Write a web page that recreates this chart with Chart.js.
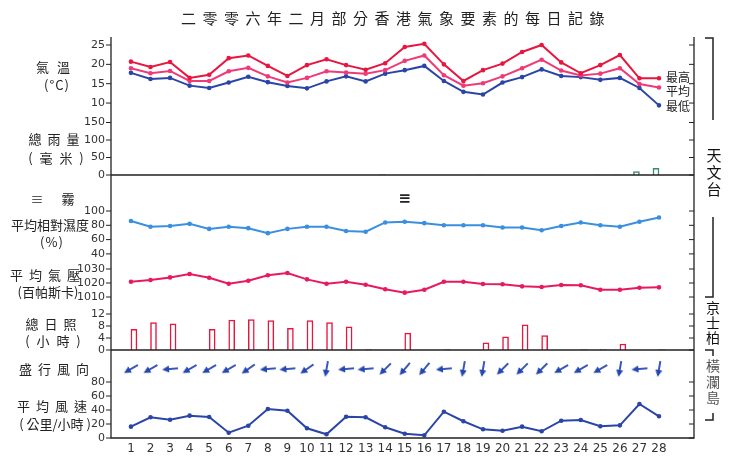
<!DOCTYPE html>
<html>
<head>
<meta charset="utf-8">
<script src="https://cdn.jsdelivr.net/npm/chart.js@4"></script>
<style>
  html, body { margin: 0; padding: 0; background: #fff; }
  #wrap { width: 733px; height: 468px; position: relative; }
</style>
</head>
<body>
<div id="wrap"><canvas id="c"></canvas></div>
<script>
// 二零零六年二月 每日記錄
const days = Array.from({ length: 28 }, (_, i) => i + 1);

const tempMax  = [20.7, 19.3, 20.6, 16.5, 17.3, 21.6, 22.3, 19.6, 17.0, 19.8, 21.3, 19.8, 18.6, 20.3, 24.5, 25.3, 20.0, 15.7, 18.5, 20.2, 23.2, 25.0, 20.5, 17.7, 19.8, 22.4, 16.4, 16.4];
const tempMean = [19.0, 17.7, 18.3, 15.7, 15.7, 18.2, 19.1, 16.9, 15.3, 16.5, 18.2, 17.9, 17.6, 18.5, 20.9, 22.3, 17.2, 14.5, 15.1, 16.9, 19.0, 21.2, 18.4, 17.1, 17.6, 19.0, 14.9, 14.0];
const tempMin  = [17.8, 16.2, 16.5, 14.5, 13.9, 15.3, 16.8, 15.4, 14.4, 13.8, 15.6, 16.9, 15.6, 17.6, 18.5, 19.6, 15.7, 12.9, 12.2, 15.3, 16.7, 18.7, 17.0, 16.7, 16.0, 16.5, 13.9, 9.4];
const rainfall = [0, 0, 0, 0, 0, 0, 0, 0, 0, 0, 0, 0, 0, 1.5, 0, 0, 0, 0, 0.5, 0, 0, 0, 0, 0, 0.5, 0.5, 10, 19];
const humidity = [86, 78, 79, 82, 75, 78, 76, 69, 75, 78, 78, 72, 71, 84, 85, 83, 80, 80, 80, 77, 77, 73, 79, 84, 80, 78, 85, 91];
const pressure = [1020.9, 1022.1, 1024.0, 1026.4, 1023.8, 1019.5, 1021.6, 1025.5, 1027.1, 1022.6, 1019.5, 1020.9, 1018.8, 1015.5, 1013.1, 1015.2, 1020.9, 1020.9, 1019.3, 1019.1, 1017.6, 1017.1, 1018.6, 1018.4, 1015.2, 1015.2, 1016.6, 1016.9];
const sunshine = [6.9, 9.1, 8.7, 0, 6.9, 10.0, 10.1, 9.8, 7.2, 9.8, 9.1, 7.7, 0.1, 0, 5.6, 0, 0.1, 0, 2.4, 4.4, 8.4, 4.8, 0, 0.1, 0.1, 2.0, 0, 0.1];
const windDir  = [60, 60, 85, 60, 60, 60, 55, 85, 85, 55, 10, 85, 85, 45, 40, 40, 85, 10, 10, 45, 45, 45, 60, 60, 60, 10, 85, 10];
const windSpd  = [16.2, 29.6, 26.1, 31.9, 30.0, 7.6, 17.6, 41.4, 39.0, 13.9, 5.3, 30.4, 29.6, 15.3, 6.1, 3.9, 37.6, 23.9, 12.4, 10.4, 16.2, 9.6, 24.7, 25.7, 16.7, 18.1, 48.6, 31.0];
const fogDays  = [15];

const tempTicks = [25, 20, 15, 10];
const rainTicks = [150, 100, 50, 0];
const humTicks  = [100, 80, 60, 40];
const presTicks = [1030, 1020, 1010];
const sunTicks  = [12, 8, 4, 0];
const spdTicks  = [80, 60, 40, 20, 0];

// chart area: 37..438 px; each hidden axis is sized so one panel lands where it should
const TOP = 37, BOT = 438;
const axis = (v, y, ppu) => ({
  display: false,
  min: v - (BOT - y) / ppu,
  max: v + (y - TOP) / ppu,
});

const pts = arr => arr.map((v, i) => ({ x: days[i], y: v }));

function arrowImage() {
  const c = document.createElement('canvas');
  c.width = 18; c.height = 18;
  const g = c.getContext('2d');
  g.strokeStyle = '#2446b0'; g.fillStyle = '#2446b0'; g.lineWidth = 1.8;
  g.beginPath(); g.moveTo(9, 1); g.lineTo(9, 12); g.stroke();
  g.beginPath(); g.moveTo(5.5, 10); g.lineTo(12.5, 10); g.lineTo(9, 17); g.closePath(); g.fill();
  return c;
}
const arrow = arrowImage();

const line = (label, data, color, yAxisID) => ({
  type: 'line', label, data: pts(data), yAxisID,
  borderColor: color, backgroundColor: color, borderWidth: 2,
  pointRadius: 1.3, pointHoverRadius: 2, tension: 0,
});

const decor = {
  id: 'decor',
  afterDraw(chart) {
    const ctx = chart.ctx, a = chart.chartArea, s = chart.scales;
    const L = a.left, R = a.right;
    ctx.save();
    ctx.strokeStyle = '#222'; ctx.lineWidth = 1.3;
    ctx.beginPath();
    ctx.moveTo(L, TOP); ctx.lineTo(L, BOT); ctx.lineTo(R, BOT); ctx.lineTo(R, TOP);
    for (const y of [175, 350]) { ctx.moveTo(L, y); ctx.lineTo(R, y); }
    ctx.stroke();

    // ticks + labels
    ctx.font = '11px "DejaVu Sans"'; ctx.fillStyle = '#333';
    ctx.textAlign = 'right'; ctx.textBaseline = 'middle';
    const tick = (scale, vals) => vals.forEach(v => {
      const y = scale.getPixelForValue(v);
      ctx.beginPath();
      ctx.moveTo(L - 5, y); ctx.lineTo(L, y);
      ctx.moveTo(R - 5, y); ctx.lineTo(R, y);
      ctx.stroke();
      ctx.fillText(String(v), L - 6, y);
    });
    ctx.lineWidth = 1;
    tick(s.yT, tempTicks); tick(s.yR, rainTicks); tick(s.yH, humTicks);
    tick(s.yP, presTicks); tick(s.yS, sunTicks); tick(s.yW, spdTicks);

    ctx.textAlign = 'center'; ctx.textBaseline = 'top'; ctx.font = '12px "DejaVu Sans"';
    days.forEach(d => {
      const x = s.x.getPixelForValue(d);
      ctx.fillText(String(d), x, BOT + 5);
    });

    // fog marks
    ctx.font = 'bold 15px "DejaVu Sans"'; ctx.textBaseline = 'middle'; ctx.fillStyle = '#222';
    fogDays.forEach(d => ctx.fillText('≡', s.x.getPixelForValue(d), 199));

    // title
    ctx.font = '15px "Noto Sans CJK TC"'; ctx.fillStyle = '#222';
    ctx.letterSpacing = '6.5px';
    ctx.fillText('二零零六年二月部分香港氣象要素的每日記錄', 396, 18);

    // left panel titles
    const lbl = (t, x, y, sp) => { ctx.letterSpacing = (sp || 0) + 'px'; ctx.fillText(t, x, y); };
    ctx.font = '13px "Noto Sans CJK TC"';
    lbl('氣溫', 57, 67, 8); lbl('(°C)', 57, 85, 1);
    lbl('總雨量', 57, 139, 6); lbl('( 毫 米 )', 57, 158, 2);
    lbl('≡', 37, 199); lbl('霧', 68, 199);
    lbl('平均相對濕度', 50, 225, 0); lbl('(%)', 52, 242, 1);
    lbl('平均氣壓', 48, 275, 6);
    lbl('(百帕斯卡)', 48, 292, 0);
    lbl('總日照', 54, 324, 6); lbl('( 小 時 )', 54, 341, 2);
    lbl('盛行風向', 57, 369, 6);
    lbl('平均風速', 55, 406, 6);
    lbl('( 公里/小時 )', 55, 424, 0);
    ctx.letterSpacing = '0px';

    // temperature series names
    ctx.textAlign = 'left'; ctx.font = '12px "Noto Sans CJK TC"';
    lbl('最高', 666, 77); lbl('平均', 666, 91); lbl('最低', 666, 106);

    // station brackets
    ctx.strokeStyle = '#222'; ctx.lineWidth = 1.5;
    ctx.beginPath();
    ctx.moveTo(705, 38); ctx.lineTo(713, 38); ctx.lineTo(713, 120);
    ctx.moveTo(713, 217); ctx.lineTo(713, 297); ctx.lineTo(705, 297);
    ctx.moveTo(705, 350); ctx.lineTo(713, 350); ctx.lineTo(713, 356);
    ctx.moveTo(713, 413); ctx.lineTo(713, 420); ctx.lineTo(705, 420);
    ctx.stroke();
    ctx.textAlign = 'center';
    const vert = (t, x, y0, step, font, col) => {
      ctx.font = font; ctx.fillStyle = col;
      [...t].forEach((ch, i) => ctx.fillText(ch, x, y0 + i * step));
    };
    vert('天文台', 714, 155, 17, '15px "Noto Sans CJK TC"', '#111');
    vert('京士柏', 713, 308, 15, '14px "Noto Sans CJK TC"', '#111');
    vert('橫瀾島', 713, 366, 16, '14px "Noto Sans CJK TC"', '#555');
    ctx.restore();
  },
};

new Chart(document.getElementById('c'), {
  data: {
    datasets: [
      line('最高', tempMax, '#e8163f', 'yT'),
      line('平均', tempMean, '#f03a78', 'yT'),
      line('最低', tempMin, '#2a45a8', 'yT'),
      line('平均相對濕度', humidity, '#3a8fe0', 'yH'),
      line('平均氣壓', pressure, '#e81a5e', 'yP'),
      line('平均風速', windSpd, '#2a45a8', 'yW'),
      {
        type: 'bar', label: '總雨量', data: pts(rainfall), yAxisID: 'yR',
        backgroundColor: '#fff', borderColor: '#3a8a6a', borderWidth: 1.5, barThickness: 6,
      },
      {
        type: 'bar', label: '總日照', data: pts(sunshine), yAxisID: 'yS',
        backgroundColor: '#fff', borderColor: '#e8163f', borderWidth: 1.5, barThickness: 6,
      },
      {
        type: 'scatter', label: '盛行風向', data: days.map(d => ({ x: d, y: 0 })), yAxisID: 'yD',
        pointStyle: arrow, rotation: windDir, pointRadius: 8,
      },
    ],
  },
  options: {
    responsive: true,
    maintainAspectRatio: false,
    animation: false,
    layout: { padding: { left: 111, right: 39, top: TOP, bottom: 468 - BOT } },
    plugins: { legend: { display: false }, tooltip: { enabled: false } },
    scales: {
      x: { type: 'linear', display: false, offset: false, min: -0.02, max: 29.79 },
      yT: axis(25, 45, 3.87),
      yR: axis(0, 175, 0.35),
      yH: axis(100, 211, 0.715),
      yP: axis(1030, 269, 1.4),
      yS: axis(0, 350, 3),
      yD: axis(0, 369, 1),
      yW: axis(0, 438, 0.7),
    },
  },
  plugins: [decor],
});
</script>
</body>
</html>
